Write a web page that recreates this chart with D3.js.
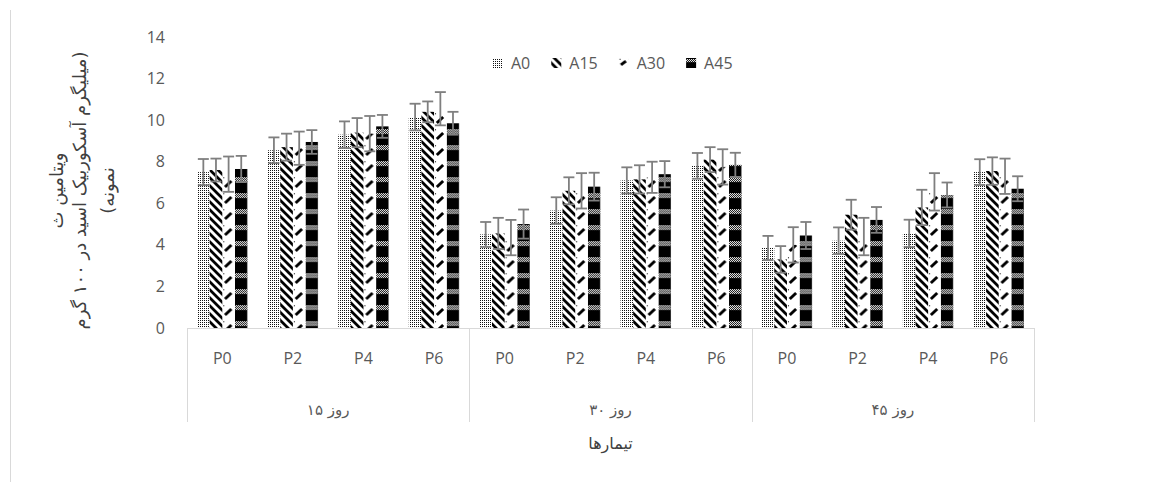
<!DOCTYPE html>
<html>
<head>
<meta charset="utf-8">
<script src="https://cdn.jsdelivr.net/npm/d3@7"></script>
<style>
  body { margin: 0; background: #fff; }
  svg { display: block; }
</style>
</head>
<body>
<svg id="chart" width="1152" height="482"></svg>
<script>
// Vitamin C content by treatment, storage day and series
const days = ["روز ۱۵", "روز ۳۰", "روز ۴۵"];
const treatments = ["P0", "P2", "P4", "P6"];
const series = ["A0", "A15", "A30", "A45"];

// values in order: day 15 (P0..P6), day 30 (P0..P6), day 45 (P0..P6)
const valuesA0  = [7.5, 8.55, 9.3, 10.15,  4.5, 5.65, 7.1, 7.8,   3.85, 4.2, 4.55, 7.5];
const valuesA15 = [7.6, 8.7, 9.4, 10.4,    4.55, 6.6, 7.15, 8.1,  3.3, 5.45, 5.8, 7.55];
const valuesA30 = [7.4, 8.65, 9.35, 10.55, 4.35, 6.6, 7.25, 7.75, 4.0, 4.4, 6.55, 7.3];
const valuesA45 = [7.65, 8.95, 9.7, 9.85,  5.0, 6.8, 7.4, 7.85,   4.45, 5.2, 6.4, 6.7];

const errA0  = [0.63, 0.62, 0.64, 0.64, 0.6, 0.64, 0.63, 0.62, 0.58, 0.64, 0.66, 0.62];
const errA15 = [0.55, 0.65, 0.7, 0.5,   0.75, 0.65, 0.68, 0.6, 0.64, 0.72, 0.85, 0.66];
const errA30 = [0.85, 0.8, 0.85, 0.8,   0.85, 0.85, 0.75, 0.85, 0.85, 0.9, 0.9, 0.85];
const errA45 = [0.63, 0.57, 0.55, 0.55, 0.7, 0.67, 0.63, 0.58, 0.65, 0.62, 0.6, 0.6];

const yTicks = [0, 2, 4, 6, 8, 10, 12, 14];
const yTitleLines = ["ویتامین ث", "(میلیگرم آسکوربیک اسید در ۱۰۰ گرم", "نمونه)"];
const xTitle = "تیمارها";

const valueBySeries = { A0: valuesA0, A15: valuesA15, A30: valuesA30, A45: valuesA45 };
const errBySeries = { A0: errA0, A15: errA15, A30: errA30, A45: errA45 };

// category keys: one per (day, treatment)
const categories = [];
days.forEach((d, di) => treatments.forEach(t => categories.push({ key: di + "|" + t, day: di, t })));

const rows = [];
categories.forEach((c, i) => {
  series.forEach(s => rows.push({ cat: c.key, s, v: valueBySeries[s][i], e: errBySeries[s][i] }));
});

// layout
const plot = { left: 187, right: 1034, top: 37, bottom: 328 };
const textGrey = "#595959";
const latin = "'Open Sans', 'Noto Sans', sans-serif";
const arabic = "'DejaVu Sans', sans-serif";

const svg = d3.select("#chart");

const x0 = d3.scaleBand().domain(categories.map(c => c.key)).range([plot.left, plot.right]).paddingInner(0).paddingOuter(0);
const step = x0.step();
const pad = step * 0.142;
const x1 = d3.scaleBand().domain(series).range([pad, step - pad]);
const y = d3.scaleLinear().domain([0, 14]).range([plot.bottom, plot.top]);

// fill patterns
const defs = svg.append("defs");

const chk = defs.append("pattern").attr("id", "chk").attr("patternUnits", "userSpaceOnUse")
  .attr("width", 2).attr("height", 2);
chk.append("rect").attr("width", 2).attr("height", 2).attr("fill", "#000");
chk.append("rect").attr("width", 1).attr("height", 1).attr("fill", "#fff");
chk.append("rect").attr("x", 1).attr("y", 1).attr("width", 1).attr("height", 1).attr("fill", "#fff");

// originX/originY anchor the tile; tileW/tileH its repeat; w the width of the mark it fills
function makePattern(id, s, originX, originY, tileW, tileH, w) {
  const p = defs.append("pattern").attr("id", id).attr("patternUnits", "userSpaceOnUse");
  if (s === "A0") {
    p.attr("width", 2).attr("height", 2);
    p.append("rect").attr("width", 1).attr("height", 1).attr("fill", "#111");
  } else if (s === "A15") {
    p.attr("width", 8).attr("height", 8);
    p.append("path").attr("d", "M-2,-2L10,10M-10,-2L2,10M6,-2L18,10")
      .attr("stroke", "#000").attr("stroke-width", 2.8);
  } else if (s === "A30") {
    p.attr("x", originX).attr("y", originY).attr("width", tileW).attr("height", tileH);
    p.append("path").attr("d", `M${w * 0.22},${tileH * 0.69}L${w * 0.72},${tileH * 0.31}`)
      .attr("stroke", "#000").attr("stroke-width", 3);
    p.append("rect").attr("x", w * 0.08).attr("y", tileH * 0.08).attr("width", 1).attr("height", 1).attr("fill", "#000");
  } else {
    p.attr("x", originX).attr("y", originY).attr("width", tileW).attr("height", tileH);
    p.append("rect").attr("width", w).attr("height", tileH).attr("fill", "#000");
    p.append("rect").attr("y", 1).attr("width", w).attr("height", tileH * 0.32).attr("fill", "url(#chk)");
  }
}
series.forEach(s => makePattern("fill-" + s, s, plot.left + x1(s), 0, step, 16, x1.bandwidth()));

// horizontal category axis line and group separators
svg.append("line").attr("x1", plot.left).attr("x2", plot.right)
  .attr("y1", y(0) + 0.5).attr("y2", y(0) + 0.5).attr("stroke", "#d9d9d9");
const sepX = [0, 4, 8].map(i => x0(categories[i].key)).concat([plot.right]);
svg.selectAll("line.sep").data(sepX).join("line").attr("class", "sep")
  .attr("x1", d => Math.round(d) + 0.5).attr("x2", d => Math.round(d) + 0.5)
  .attr("y1", y(0)).attr("y2", 422).attr("stroke", "#d9d9d9");

// frame edge on the left
svg.append("line").attr("x1", 10.5).attr("x2", 10.5).attr("y1", 10).attr("y2", 482).attr("stroke", "#d9d9d9");

// bars
const gBars = svg.append("g");
gBars.selectAll("rect").data(rows).join("rect")
  .attr("x", d => x0(d.cat) + x1(d.s))
  .attr("y", d => y(d.v))
  .attr("width", x1.bandwidth())
  .attr("height", d => y(0) - y(d.v))
  .attr("fill", d => `url(#fill-${d.s})`);

// error bars
const capHalf = 5.5;
const gErr = svg.append("g").attr("stroke", "#7f7f7f").attr("stroke-width", 1.8);
const eb = gErr.selectAll("g").data(rows).join("g")
  .attr("transform", d => `translate(${x0(d.cat) + x1(d.s) + x1.bandwidth() / 2},0)`);
eb.append("line").attr("y1", d => y(d.v + d.e)).attr("y2", d => y(d.v - d.e));
eb.append("line").attr("x1", -capHalf).attr("x2", capHalf).attr("y1", d => y(d.v + d.e)).attr("y2", d => y(d.v + d.e));
eb.append("line").attr("x1", -capHalf).attr("x2", capHalf).attr("y1", d => y(d.v - d.e)).attr("y2", d => y(d.v - d.e));

// value axis
const yAxis = svg.append("g").attr("transform", `translate(${plot.left},0)`)
  .call(d3.axisLeft(y).tickValues(yTicks).tickSize(0).tickPadding(22));
yAxis.select(".domain").remove();
yAxis.selectAll("text").attr("fill", textGrey).style("font-family", latin).style("font-size", "16px");

// treatment labels
const xAxis = svg.append("g").attr("transform", `translate(0,${y(0)})`)
  .call(d3.axisBottom(x0).tickSize(0).tickPadding(25).tickFormat(k => k.split("|")[1]));
xAxis.select(".domain").remove();
xAxis.selectAll("text").attr("fill", textGrey).style("font-family", latin).style("font-size", "16px");

// day labels
svg.selectAll("text.day").data(days).join("text").attr("class", "day")
  .attr("x", (d, i) => (sepX[i] + sepX[i + 1]) / 2)
  .attr("y", 410).attr("dy", "0.35em").attr("text-anchor", "middle")
  .attr("direction", "rtl").attr("fill", textGrey)
  .style("font-family", arabic).style("font-size", "15px").text(d => d);

// axis titles
svg.append("text").attr("x", (plot.left + plot.right) / 2).attr("y", 443).attr("dy", "0.35em")
  .attr("text-anchor", "middle").attr("direction", "rtl").attr("fill", "#404040")
  .style("font-family", arabic).style("font-size", "16px").text(xTitle);

const titleX = [57, 80, 108];
svg.selectAll("text.ytitle").data(yTitleLines).join("text").attr("class", "ytitle")
  .attr("transform", (d, i) => `translate(${titleX[i]},${(plot.top + plot.bottom) / 2 + 8}) rotate(-90)`)
  .attr("dy", "0.35em").attr("text-anchor", "middle").attr("direction", "rtl")
  .attr("fill", "#404040").style("font-family", arabic).style("font-size", "18px")
  .text(d => d);

// legend
const legend = svg.append("g").attr("transform", "translate(493,63)");
let lx = 0;
series.forEach(s => {
  const g = legend.append("g").attr("transform", `translate(${lx},0)`);
  const id = "legp-" + s;
  makePattern(id, s, 0, -5, 10, 10, 10);
  g.append("rect").attr("y", -5).attr("width", 10).attr("height", 10).attr("fill", `url(#${id})`);
  const t = g.append("text").attr("x", 18).attr("dy", "0.35em").attr("fill", textGrey)
    .style("font-family", latin).style("font-size", "16px").text(s);
  lx += 18 + t.node().getComputedTextLength() + 21;
});
</script>
</body>
</html>
